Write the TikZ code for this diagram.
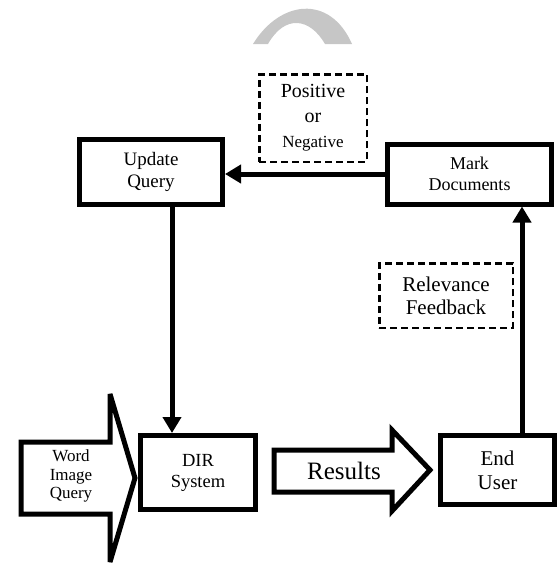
\documentclass[tikz,border=0pt]{standalone}
\usepackage{fontspec}
\setmainfont{Liberation Serif}
\usetikzlibrary{arrows.meta,positioning}

\tikzset{
  solidbox/.style={draw, line width=5pt, align=center, inner sep=0pt},
  dashbox/.style={draw, line width=2.5pt, dash pattern=on 7pt off 4pt, align=center, inner sep=0pt},
  flow/.style={line width=5pt, -{Triangle[length=16pt,width=18pt]}},
  bigarrow/.style={draw, line width=5pt, line join=miter, miter limit=6, fill=white},
}

\begin{document}
\begin{tikzpicture}[x=1pt,y=-1pt]
      \useasboundingbox (0,0) rectangle (559,565);
      \fill[gray!45] (253,44) .. controls (280,0) and (330,-6) .. (352,44)
        -- (325,44) .. controls (310,18) and (285,14) .. (268,44) -- cycle;

      \node[solidbox, minimum width=143pt, minimum height=65pt,
        font=\fontsize{19}{22}\selectfont] (upd) at (151,172) {Update\\Query};
      \node[solidbox, minimum width=164pt, minimum height=60pt,
        font=\fontsize{18}{21}\selectfont] (mark) at (469.5,174) {Mark\\Documents};
      \node[solidbox, minimum width=115pt, minimum height=74pt,
        font=\fontsize{18.5}{21}\selectfont] (dir) at (198,472.5) {DIR\\System};
      \node[solidbox, minimum width=114pt, minimum height=69pt,
        font=\fontsize{21}{24}\selectfont] (user) at (497.5,470) {End\\User};

      \node[dashbox, minimum width=107.5pt, minimum height=87.5pt,
        font=\fontsize{20}{25}\selectfont] (sign) at (313,118)
        {Positive\\or\\{\fontsize{17}{25}\selectfont Negative}};
      \node[dashbox, minimum width=133.5pt, minimum height=64.5pt,
        font=\fontsize{21}{23}\selectfont] (relfb) at (446,295.5) {Relevance\\Feedback};

      \draw[flow] (mark.west) -- (mark.west -| upd.east);
      \coordinate (updfoot) at ([xshift=21pt]upd.south);
      \draw[flow] (updfoot) -- (updfoot |- dir.north);
      \coordinate (usertop) at ([xshift=24.5pt]user.north);
      \draw[flow] (usertop) -- (usertop |- mark.south);

      % block arrows
      \draw[bigarrow] (21,442) -- (110,442) -- (110,394) -- (135,478)
        -- (110,562) -- (110,514) -- (21,514) -- cycle;
      \node[font=\fontsize{17}{18.5}\selectfont, align=center] (query) at (71,476) {Word\\Image\\Query};
      \draw[bigarrow] (274,450) -- (392,450) -- (392,430) -- (430,470)
        -- (392,511) -- (392,492) -- (274,492) -- cycle;
      \node[font=\fontsize{25}{28}\selectfont] (res) at (344,471) {Results};
    \end{tikzpicture}
\end{document}
